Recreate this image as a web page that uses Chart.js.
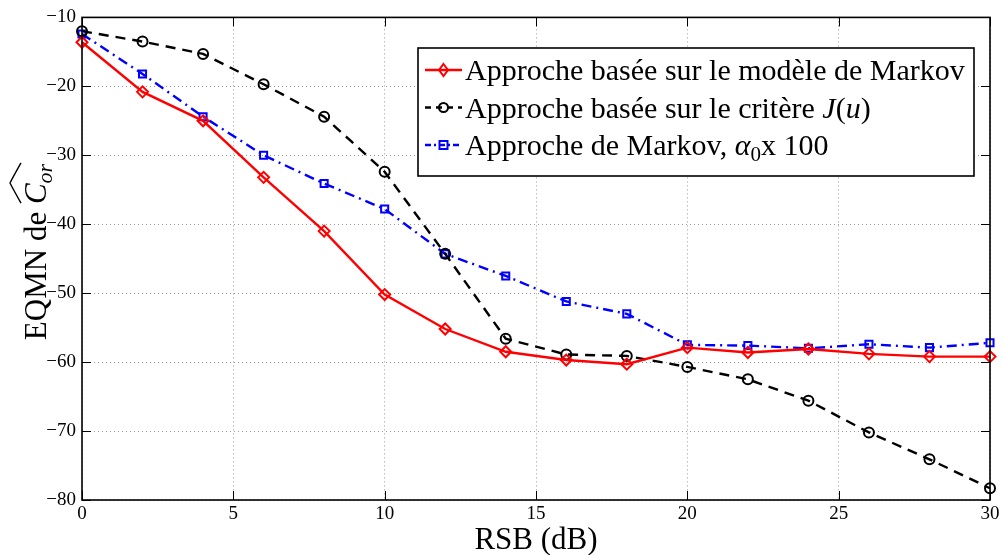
<!DOCTYPE html>
<html>
<head>
<meta charset="utf-8">
<script src="https://cdn.jsdelivr.net/npm/chart.js@4.4.1/dist/chart.umd.min.js"></script>
<style>
  html, body { margin: 0; padding: 0; background: #fff; }
</style>
</head>
<body>
<canvas id="eqmn-chart" width="1003" height="555"></canvas>
<script>
// RSB en dB et EQMN obtenus pour chaque approche
var snr = [0, 2, 4, 6, 8, 10, 12, 14, 16, 18, 20, 22, 24, 26, 28, 30];
var markovEqmn = [-13.6, -20.8, -25.0, -33.2, -41.0, -50.2, -55.2, -58.5, -59.7, -60.3, -57.9, -58.6, -58.1, -58.8, -59.2, -59.2];
var critereEqmn = [-12.0, -13.5, -15.3, -19.7, -24.4, -32.4, -44.3, -56.6, -58.9, -59.1, -60.7, -62.5, -65.6, -70.2, -74.1, -78.3];
var alphaEqmn = [-12.4, -18.2, -24.4, -30.0, -34.1, -37.8, -44.3, -47.5, -51.2, -53.0, -57.5, -57.6, -58.0, -57.4, -57.9, -57.2];

var xTicks = [0, 5, 10, 15, 20, 25, 30];
var yTicks = [-80, -70, -60, -50, -40, -30, -20, -10];

var FONT = "'Liberation Serif', 'Times New Roman', serif";

function pts(ys) {
  return snr.map(function (x, i) { return { x: x, y: ys[i] }; });
}

// writes a list of text pieces (normal / italic / subscript) one after another
function drawRuns(ctx, runs, x, y) {
  var pos = x;
  runs.forEach(function (r) {
    ctx.font = (r.italic ? 'italic ' : '') + r.size + 'px ' + FONT;
    ctx.fillText(r.t, pos, y + (r.dy || 0));
    r.x0 = pos;
    pos += ctx.measureText(r.t).width;
    r.x1 = pos;
  });
  return pos;
}

var legendItems = [
  { color: '#ff0000', dash: [], marker: 'diamond',
    runs: [{ t: 'Approche basée sur le modèle de Markov', size: 30 }] },
  { color: '#000000', dash: [6, 5], marker: 'circle',
    runs: [{ t: 'Approche basée sur le critère ', size: 30 }, { t: 'J', size: 30, italic: true },
           { t: '(', size: 30 }, { t: 'u', size: 30, italic: true }, { t: ')', size: 30 }] },
  { color: '#0000ff', dash: [6, 3, 2, 3], marker: 'square',
    runs: [{ t: 'Approche de Markov, ', size: 30 }, { t: 'α', size: 30, italic: true },
           { t: '0', size: 21, dy: 6 }, { t: 'x 100', size: 30 }] }
];

function drawMarker(ctx, kind, x, y, color) {
  ctx.save();
  ctx.setLineDash([]);
  ctx.strokeStyle = color;
  ctx.lineWidth = 2;
  ctx.beginPath();
  if (kind === 'diamond') {
    ctx.moveTo(x, y - 6); ctx.lineTo(x + 4.5, y); ctx.lineTo(x, y + 6); ctx.lineTo(x - 4.5, y); ctx.closePath();
  } else if (kind === 'circle') {
    ctx.arc(x, y, 4.5, 0, Math.PI * 2);
  } else {
    ctx.rect(x - 4, y - 4, 8, 8);
  }
  ctx.stroke();
  ctx.restore();
}

var matlabFrame = {
  id: 'matlabFrame',
  afterDraw: function (chart) {
    var ctx = chart.ctx;
    var a = chart.chartArea;
    var xs = chart.scales.x, ys = chart.scales.y;
    ctx.save();

    // inward ticks on the four sides
    ctx.strokeStyle = '#000';
    ctx.lineWidth = 1;
    ctx.setLineDash([]);
    ctx.beginPath();
    xTicks.forEach(function (v) {
      var px = Math.round(xs.getPixelForValue(v)) + 0.5;
      ctx.moveTo(px, a.bottom); ctx.lineTo(px, a.bottom - 9);
      ctx.moveTo(px, a.top); ctx.lineTo(px, a.top + 9);
    });
    yTicks.forEach(function (v) {
      var py = Math.round(ys.getPixelForValue(v)) + 0.5;
      ctx.moveTo(a.left, py); ctx.lineTo(a.left + 9, py);
      ctx.moveTo(a.right, py); ctx.lineTo(a.right - 9, py);
    });
    ctx.stroke();

    // axes box
    ctx.lineWidth = 1.6;
    ctx.strokeRect(a.left, a.top, a.right - a.left, a.bottom - a.top);

    // x axis title
    ctx.fillStyle = '#000';
    ctx.font = '31px ' + FONT;
    ctx.textAlign = 'center';
    ctx.textBaseline = 'alphabetic';
    ctx.fillText('RSB (dB)', (a.left + a.right) / 2, 549);

    // y axis title, rotated, with a wide hat over C_or
    ctx.save();
    ctx.translate(46, 252);
    ctx.rotate(-Math.PI / 2);
    ctx.textAlign = 'left';
    var yRuns = [{ t: 'EQMN de ', size: 31 }, { t: 'C', size: 31, italic: true },
                 { t: 'or', size: 22, italic: true, dy: 6 }];
    var w = 0;
    yRuns.forEach(function (r) {
      ctx.font = (r.italic ? 'italic ' : '') + r.size + 'px ' + FONT;
      w += ctx.measureText(r.t).width;
    });
    drawRuns(ctx, yRuns, -w / 2, 0);
    var h0 = yRuns[1].x0 + 1, h1 = yRuns[2].x1 + 1;
    ctx.beginPath();
    ctx.lineWidth = 1.4;
    ctx.moveTo(h0, -25);
    ctx.quadraticCurveTo((h0 + h1) / 2 - 6, -33, (h0 + h1) / 2, -36);
    ctx.quadraticCurveTo((h0 + h1) / 2 + 6, -33, h1, -25);
    ctx.stroke();
    ctx.restore();

    // legend box
    var lx = 418, ly = 48, lw = 556, lh = 128;
    ctx.fillStyle = '#fff';
    ctx.fillRect(lx, ly, lw, lh);
    ctx.lineWidth = 1.6;
    ctx.strokeStyle = '#000';
    ctx.strokeRect(lx, ly, lw, lh);
    ctx.textAlign = 'left';
    legendItems.forEach(function (it, i) {
      var cy = 70 + i * 37.5;
      ctx.strokeStyle = it.color;
      ctx.lineWidth = 2.4;
      ctx.setLineDash(it.dash);
      ctx.beginPath();
      ctx.moveTo(425, cy); ctx.lineTo(462, cy);
      ctx.stroke();
      drawMarker(ctx, it.marker, 443.5, cy, it.color);
      ctx.fillStyle = '#000';
      drawRuns(ctx, it.runs, 465, cy + 10);
    });
    ctx.restore();
  }
};

var ctx = document.getElementById('eqmn-chart').getContext('2d');
var chart = new Chart(ctx, {
  type: 'line',
  data: {
    datasets: [
      {
        label: 'Approche basée sur le modèle de Markov',
        data: pts(markovEqmn),
        borderColor: '#ff0000',
        borderWidth: 2.4,
        pointStyle: 'rectRot',
        pointRadius: 5.5,
        pointBorderWidth: 2,
        pointBorderColor: '#ff0000',
        pointBackgroundColor: 'rgba(0,0,0,0)'
      },
      {
        label: 'Approche basée sur le critère J(u)',
        data: pts(critereEqmn),
        borderColor: '#000000',
        borderWidth: 2.4,
        borderDash: [10, 7],
        pointStyle: 'circle',
        pointRadius: 5,
        pointBorderWidth: 2,
        pointBorderColor: '#000000',
        pointBackgroundColor: 'rgba(0,0,0,0)'
      },
      {
        label: 'Approche de Markov, α0x 100',
        data: pts(alphaEqmn),
        borderColor: '#0000ff',
        borderWidth: 2.4,
        borderDash: [10, 5, 2, 5],
        pointStyle: 'rect',
        pointRadius: 5,
        pointBorderWidth: 2,
        pointBorderColor: '#0000ff',
        pointBackgroundColor: 'rgba(0,0,0,0)'
      }
    ]
  },
  options: {
    responsive: false,
    animation: false,
    devicePixelRatio: 1,
    clip: false,
    layout: { padding: { top: 16, right: 13, left: 0, bottom: 0 } },
    plugins: { legend: { display: false }, tooltip: { enabled: false } },
    scales: {
      x: {
        type: 'linear',
        min: 0,
        max: 30,
        afterBuildTicks: function (s) { s.ticks = xTicks.map(function (v) { return { value: v }; }); },
        afterFit: function (s) { s.height = 55; },
        ticks: { color: '#000', font: { family: FONT, size: 19 }, padding: 3, maxRotation: 0 },
        grid: { color: '#9a9a9a', lineWidth: 1, drawTicks: false },
        border: { display: false, dash: [1, 3] }
      },
      y: {
        type: 'linear',
        min: -80,
        max: -10,
        afterBuildTicks: function (s) { s.ticks = yTicks.map(function (v) { return { value: v }; }); },
        afterFit: function (s) { s.width = 82; },
        ticks: {
          color: '#000',
          font: { family: FONT, size: 19 },
          padding: 6,
          callback: function (v) { return String(v).replace('-', '\u2212'); }
        },
        grid: { color: '#9a9a9a', lineWidth: 1, drawTicks: false },
        border: { display: false, dash: [1, 3] }
      }
    }
  },
  plugins: [matlabFrame]
});
</script>
</body>
</html>
